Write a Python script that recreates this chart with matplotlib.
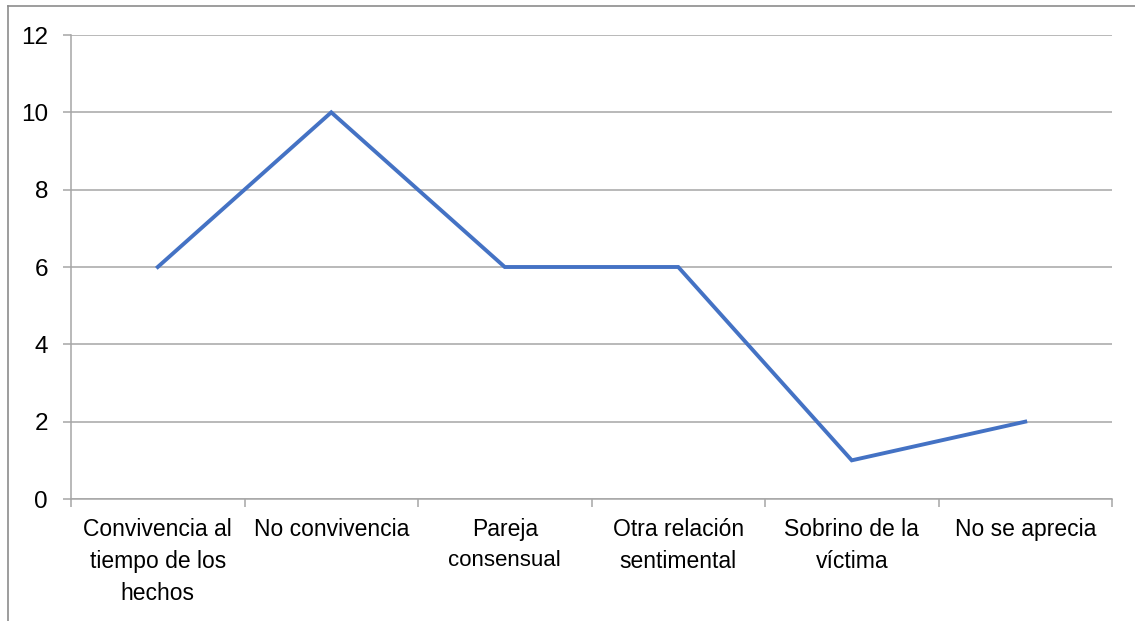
import numpy as np
import matplotlib.pyplot as plt
from matplotlib.lines import Line2D
from matplotlib.ticker import FixedLocator

categorias = ['Convivencia al\ntiempo de los\nhechos', 'No convivencia', 'Pareja',
              'Otra relación\nsentimental', 'Sobrino de la\nvíctima', 'No se aprecia']
valores = [6, 10, 6, 6, 1, 2]
# second line of the 3rd label is drawn smaller in the original
sub_label = 'consensual'

plt.rcParams['font.family'] = ['Liberation Sans', 'DejaVu Sans']

fig = plt.figure(figsize=(11.35, 6.21), dpi=100)
ax = fig.add_axes([71 / 1135, 1 - 499 / 621, (1112 - 71) / 1135, (499 - 35) / 621])

x = np.arange(len(categorias))
ax.plot(x, valores, color='#4472C4', linewidth=2.8, solid_joinstyle='miter')

ax.set_xlim(-0.5, len(categorias) - 0.5)
ax.set_ylim(0, 12)
ax.set_yticks(np.arange(0, 13, 2))
ax.set_xticks(x)
ax.set_xticklabels(categorias, fontsize=16.5, linespacing=1.5)
ax.xaxis.set_minor_locator(FixedLocator(np.arange(-0.5, len(categorias), 1)))

grid_c = '#a6a6a6'
ax.grid(axis='y', color=grid_c, linewidth=1.1)
ax.set_axisbelow(True)
for s in ['top', 'right']:
    ax.spines[s].set_visible(False)
for s in ['left', 'bottom']:
    ax.spines[s].set_color(grid_c)
    ax.spines[s].set_linewidth(1.1)

ax.tick_params(axis='x', which='major', length=0, pad=13.5)
ax.tick_params(axis='x', which='minor', length=6, color=grid_c, width=1.1)
ax.tick_params(axis='y', length=6, color=grid_c, width=1.1, pad=10.5, labelsize=17.5)

ax.annotate(sub_label, xy=(2, 0), xycoords='data', xytext=(0, -48.5),
            textcoords='offset points', ha='center', va='baseline',
            fontsize=16, annotation_clip=False)

# outer frame of the original picture (left and top edges)
fig.add_artist(Line2D([7.5 / 1135, 7.5 / 1135], [0, 1 - 5.5 / 621],
                      transform=fig.transFigure, color='#8c8c8c', linewidth=1.2))
fig.add_artist(Line2D([7.5 / 1135, 1], [1 - 5.5 / 621, 1 - 5.5 / 621],
                      transform=fig.transFigure, color='#8c8c8c', linewidth=1.2))

fig.savefig('out.png', dpi=100)
